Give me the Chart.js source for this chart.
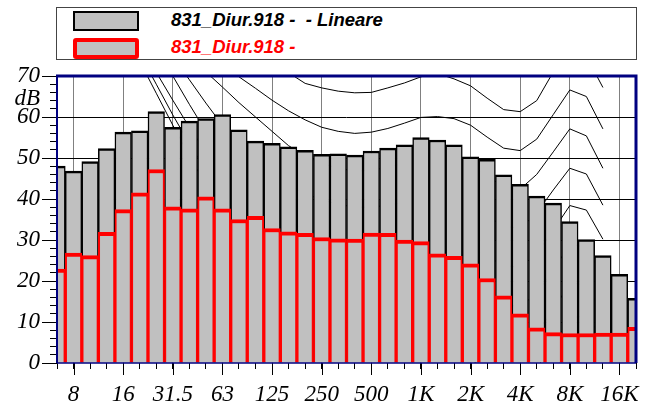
<!DOCTYPE html>
<html>
<head>
<meta charset="utf-8">
<script src="https://cdn.jsdelivr.net/npm/chart.js@4"></script>
<style>
  body { margin: 0; background: #fff; }
  #wrap { position: relative; width: 648px; height: 407px; }
  #legend {
    position: absolute; left: 56px; top: 7px; width: 581px; height: 53px;
    border: 1px solid #444; box-sizing: border-box; background: #fff;
    font: bold italic 18.5px "Liberation Sans", Arial, sans-serif;
  }
  .patch { position: absolute; left: 16px; width: 66px; background: #c0c0c0; box-sizing: border-box; }
  .lbl { position: absolute; left: 114px; line-height: 19px; white-space: pre; }
  #unit {
    position: absolute; left: 0; top: 87px; width: 40px; text-align: right;
    font: italic 23px/22px "Times New Roman", "Liberation Serif", "DejaVu Serif", serif; color: #000;
  }
</style>
</head>
<body>
<div id="wrap">
  <canvas id="chart" width="648" height="407"></canvas>
  <div id="legend">
    <div class="patch" style="top:3px;height:20px;border:2px solid #000"></div>
    <div class="lbl" style="top:1.5px;color:#000">831_Diur.918 -  - Lineare</div>
    <div class="patch" style="top:29.5px;height:21px;border:4px solid #f00;border-radius:3px"></div>
    <div class="lbl" style="top:28.8px;color:#f00">831_Diur.918 -</div>
  </div>
  <div id="unit">dB</div>
</div>
<script>
// bande di terzo d'ottava 6.3 Hz .. 20 kHz
const bands = ['6.3','8','10','12.5','16','20','25','31.5','40','50','63','80','100','125','160','200',
  '250','315','400','500','630','800','1K','1.25K','1.6K','2K','2.5K','3.15K','4K','5K','6.3K','8K',
  '10K','12.5K','16K','20K'];
const shownLabels = ['8','16','31.5','63','125','250','500','1K','2K','4K','8K','16K'];

// livelli in dB
const lineare = [48.0, 46.8, 49.1, 52.3, 56.3, 56.6, 61.3, 57.5, 59.0, 59.6, 60.6, 56.9,
  54.1, 53.6, 52.7, 51.9, 50.9, 51.0, 50.7, 51.7, 52.4, 53.2, 55.0, 54.4,
  53.2, 50.3, 49.7, 45.9, 43.6, 40.7, 39.0, 34.5, 30.1, 26.2, 21.6, 15.8];
const diurno = [22.9, 26.8, 26.2, 31.9, 37.4, 41.5, 47.2, 38.1, 37.6, 40.5, 37.6, 35.0,
  35.8, 32.8, 32.0, 31.6, 30.6, 30.3, 30.2, 31.7, 31.6, 30.0, 29.6, 26.6,
  26.0, 24.2, 20.6, 16.4, 12.0, 8.6, 7.4, 7.2, 7.2, 7.3, 7.3, 8.7];

// isofoniche, dalla banda 20 Hz alla 12.5 kHz
const isoFirstBand = 5;
const iso70 = [100, 96, 92.5, 89, 86, 82.5, 79.5, 76.5, 73.5, 70.8, 68.2, 67.1, 66.3, 65.9, 66.0,
  67.1, 68.3, 69.8, 70.6, 69.3, 67.6, 64.6, 61.8, 61.3, 64.0, 71.0, 76.5, 74.8, 67.2];
const iso60 = [92, 88, 84, 80, 76.5, 73, 69.8, 67, 64.1, 61.5, 59.3, 57.5, 56.5, 56.0, 56.3,
  57.2, 58.5, 59.9, 60.1, 59.6, 58.0, 55.1, 52.4, 51.8, 54.6, 60.6, 66.6, 65.0, 57.1];
const iso50 = [88, 84, 79.5, 75, 71, 67.3, 63.5, 60, 56.5, 53, 50.5, 48.7, 47.5, 46.8, 47.0,
  47.7, 48.8, 50.0, 50.3, 49.8, 48.3, 45.6, 43.0, 42.4, 46.0, 51.5, 57.1, 55.4, 47.5];
const iso40 = [85, 80, 74.7, 69.1, 63.4, 58, 53.5, 49.5, 46, 43.3, 41.3, 39.8, 38.7, 38.0, 38.0,
  38.5, 39.2, 40.0, 40.3, 39.8, 38.3, 35.8, 33.4, 32.8, 36.6, 42.2, 47.5, 46.1, 38.5];
const iso30 = [84, 77, 70, 63.1, 56.5, 50.5, 45.5, 41.2, 37.5, 34.6, 32.4, 30.8, 29.6, 28.8, 28.6,
  28.9, 29.4, 30.0, 30.3, 29.8, 28.4, 26.0, 23.8, 23.3, 26.7, 32.4, 38.4, 37.3, 30.2];
const iso20 = [77.7, 70.9, 64.1, 57.5, 51.5, 46, 41, 36.6, 32.8, 29.6, 27.0, 25.0, 23.4, 22.2, 21.3,
  20.6, 20.2, 20.0, 20.2, 19.7, 18.4, 16.2, 14.2, 13.8, 17.0, 22.6, 29.0, 28.2, 21.0];
const iso10 = [75.5, 68, 60.5, 53.5, 47, 41, 35.5, 30.6, 26.4, 22.8, 19.8, 17.4, 15.5, 13.9, 12.6,
  11.5, 10.6, 10.0, 10.2, 9.7, 8.5, 6.5, 4.8, 4.5, 7.5, 12.8, 19.6, 19.0, 12.0];
const iso0 = [73.6, 65.8, 58, 50.5, 43.5, 37, 31, 25.8, 21.3, 17.5, 14.3, 11.6, 9.4, 7.6, 6.0,
  4.8, 4.0, 3.5, 3.4, 2.5, 0.8, -1.5, -3.5, -4.0, -1.0, 4.0, 11.0, 11.5, 6.0];

const barPoints = arr => arr.map((v, i) => ({ x: i, y: v }));
const isoPoints = arr => arr.map((v, i) => ({ x: i + isoFirstBand, y: v }));

const isoDataset = arr => ({
  type: 'line', data: isoPoints(arr), borderColor: '#000', borderWidth: 1,
  pointRadius: 0, tension: 0, fill: false, order: 10
});

const tickFont = { family: '"Times New Roman", "Liberation Serif", "DejaVu Serif", serif', style: 'italic', size: 23 };
const clear = 'rgba(0,0,0,0)';

// cornice blu e tacche principali
const frame = {
  id: 'frame',
  afterDatasetsDraw(chart) {
    const { ctx, chartArea: a, scales } = chart;
    ctx.save();
    ctx.strokeStyle = '#000';
    ctx.lineWidth = 1;
    ctx.beginPath();
    for (let v = 0; v <= 70; v += 10) {
      const y = Math.round(scales.y.getPixelForValue(v)) + 0.5;
      ctx.moveTo(a.left - 15, y); ctx.lineTo(a.left, y);
    }
    bands.forEach((b, i) => {
      if (!shownLabels.includes(b)) return;
      const x = Math.round(scales.x.getPixelForValue(i)) + 0.5;
      ctx.moveTo(x, a.bottom); ctx.lineTo(x, a.bottom + 12);
    });
    ctx.stroke();

    ctx.strokeStyle = '#000080';
    ctx.lineWidth = 1.5;
    ctx.beginPath(); ctx.moveTo(a.left, a.bottom); ctx.lineTo(a.right, a.bottom); ctx.stroke();
    ctx.lineWidth = 2;
    ctx.beginPath(); ctx.moveTo(a.left, a.top); ctx.lineTo(a.left, a.bottom); ctx.stroke();
    ctx.lineWidth = 3;
    ctx.beginPath(); ctx.moveTo(a.left - 1, a.top); ctx.lineTo(a.right, a.top); ctx.lineTo(a.right, a.bottom); ctx.stroke();
    ctx.restore();
  }
};

new Chart(document.getElementById('chart'), {
  type: 'bar',
  data: {
    datasets: [
      {
        label: '831_Diur.918 -', data: barPoints(diurno), backgroundColor: '#c0c0c0',
        borderColor: '#ff0000', borderWidth: { top: 4, left: 2, right: 2, bottom: 0 },
        grouped: false, order: 1, barPercentage: 1, categoryPercentage: 1
      },
      {
        label: '831_Diur.918 -  - Lineare', data: barPoints(lineare), backgroundColor: '#c0c0c0',
        borderColor: '#000', borderWidth: { top: 2.5, left: 1.5, right: 1.5, bottom: 0 },
        grouped: false, order: 2, barPercentage: 1, categoryPercentage: 1
      },
      isoDataset(iso70), isoDataset(iso60), isoDataset(iso50), isoDataset(iso40),
      isoDataset(iso30), isoDataset(iso20), isoDataset(iso10), isoDataset(iso0)
    ]
  },
  options: {
    responsive: false,
    animation: false,
    events: [],
    layout: { padding: { top: 76, right: 11, left: 0, bottom: 0 } },
    plugins: { legend: { display: false }, tooltip: { enabled: false } },
    scales: {
      x: {
        type: 'linear', min: 0, max: 35, offset: false,
        border: { display: false },
        grid: {
          offset: false, tickLength: 6, tickColor: '#000', lineWidth: 1,
          color: c => (c.tick && shownLabels.includes(bands[c.tick.value])) ? '#808080' : clear
        },
        ticks: {
          stepSize: 1, autoSkip: false, maxRotation: 0, padding: 12, color: '#000', font: tickFont,
          callback: v => shownLabels.includes(bands[v]) ? bands[v] : ''
        },
        afterFit: s => { s.height = 44; }
      },
      y: {
        min: 0, max: 70,
        border: { display: false },
        grid: {
          tickLength: 7, tickColor: '#000', lineWidth: 1,
          color: c => (c.tick && c.tick.value % 10 === 0 && c.tick.value > 0 && c.tick.value < 70) ? '#000' : clear
        },
        ticks: {
          stepSize: 2, autoSkip: false, padding: 10, color: '#000', font: tickFont,
          callback: v => v % 10 === 0 ? v : ''
        },
        afterFit: s => { s.width = 57; }
      }
    }
  },
  plugins: [frame]
});
</script>
</body>
</html>
